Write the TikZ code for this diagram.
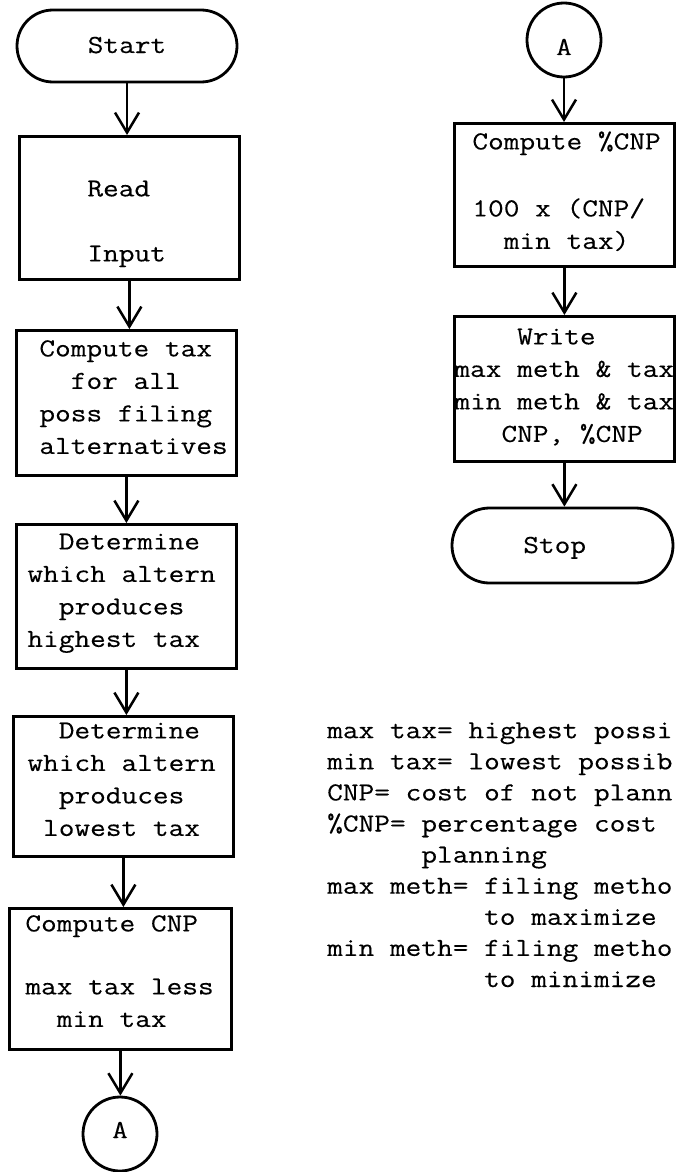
\documentclass[tikz,border=0pt]{standalone}
\usepackage{fontspec}
\newfontfamily\tw[HyphenChar=None,WordSpace={1,0,0},FakeStretch=1.172,FakeBold=0.3]{Latin Modern Mono}
\usetikzlibrary{arrows.meta,shapes.misc}
\begin{document}
\begin{tikzpicture}[x=1pt,y=-1pt,
  every node/.style={font=\tw\fontsize{26}{32.5}\selectfont},
  stepbox/.style={draw, line width=2.8pt, anchor=north west, inner ysep=0pt, align=flush left},
  term/.style={draw, rounded rectangle, line width=2.8pt, inner sep=0pt},
  conn/.style={draw, circle, line width=2.8pt, minimum size=74pt, inner sep=0pt},
  arr/.style={line width=2.5pt, -{Straight Barb[length=20pt,width=24pt]}},
  legend/.style={anchor=north west, inner sep=0pt, align=flush left, text width=353pt,
    font=\tw\fontsize{26}{31.1}\selectfont, text height=20pt}
]
\useasboundingbox (0,0) rectangle (680,1172);
\clip (0,0) rectangle (680,1172);

% left column: main computation
\node[term, minimum width=220pt, minimum height=72pt, text height=16pt, text depth=2pt]
  (start) at (127,46) {Start};
\node[stepbox, minimum width=220pt, minimum height=143pt, inner xsep=68pt, text width=84pt,
  text height=60pt, text depth=83pt] (read) at (18,135) {Read\\[32.5pt]Input};
\node[stepbox, minimum width=220pt, minimum height=145pt, inner xsep=23pt, text width=174pt,
  text height=26pt, text depth=119pt] (alltax) at (15,329)
  {Compute~tax\\\hphantom{xx}for~all\\poss~filing\\alternatives};
\node[stepbox, minimum width=220pt, minimum height=144pt, inner xsep=11pt, text width=198pt,
  text height=25pt, text depth=119pt] (high) at (15,523)
  {\hphantom{xx}Determine\\which~altern\\\hphantom{xx}produces\\highest~tax};
\node[stepbox, minimum width=220pt, minimum height=140pt, inner xsep=14pt, text width=192pt,
  text height=22pt, text depth=118pt] (low) at (12,715)
  {\hphantom{xx}Determine\\which~altern\\\hphantom{xx}produces\\\hphantom{x}lowest~tax};
\node[stepbox, minimum width=222pt, minimum height=141pt, inner xsep=16pt, text width=190pt,
  text height=23pt, text depth=118pt] (cnp) at (8,907)
  {Compute~CNP\\[30.5pt]max~tax~less\\\hphantom{xx}min~tax};
\node[conn, text height=15pt, text depth=7pt] (ain) at (120,1134) {A};

% right column: continuation
\node[conn, text height=30pt, text depth=0pt] (aout) at (564,40) {A};
\node[stepbox, minimum width=220pt, minimum height=143pt, inner xsep=18pt, text width=184pt,
  text height=26pt, text depth=117pt] (pct) at (453,122)
  {Compute~\%CNP\\[34.5pt]100~x~(CNP/\\\hphantom{xx}min~tax)};
\node[stepbox, minimum width=220pt, minimum height=145pt, inner xsep=0pt, text width=220pt,
  text height=28pt, text depth=117pt] (write) at (453,315)
  {\hphantom{xxxx}Write\\max~meth~\&~tax\\min~meth~\&~tax\\\hphantom{xxx}CNP,~\%CNP};
\node[term, minimum width=221pt, minimum height=75pt, text height=16pt, text depth=1pt]
  (stop) at (562.5,545.5) {Stop\hphantom{x}};

% definitions
\node[legend] (key) at (327,718)
  {max~tax=~highest~possi\\min~tax=~lowest~possib\\CNP=~cost~of~not~plann\\
   \%CNP=~percentage~cost\\\hphantom{xxxxxx}planning\\max~meth=~filing~metho\\
   \hphantom{xxxxxxxxxx}to~maximize\\min~meth=~filing~metho\\
   \hphantom{xxxxxxxxxx}to~minimize};

% connectors
\draw[arr] (start.south) -- (start.south |- read.north);
\draw[arr] (read.south) -- (read.south |- alltax.north);
\draw[arr] (alltax.south) -- (alltax.south |- high.north);
\draw[arr] (high.south) -- (high.south |- low.north);
\draw[arr] (low.south) -- (low.south |- cnp.north);
\draw[arr] (cnp.south) -- (cnp.south |- ain.north);
\draw[arr] (aout.south) -- (aout.south |- pct.north);
\draw[arr] (pct.south) -- (pct.south |- write.north);
\draw[arr] (write.south) -- (write.south |- stop.north);
\end{tikzpicture}
\end{document}
